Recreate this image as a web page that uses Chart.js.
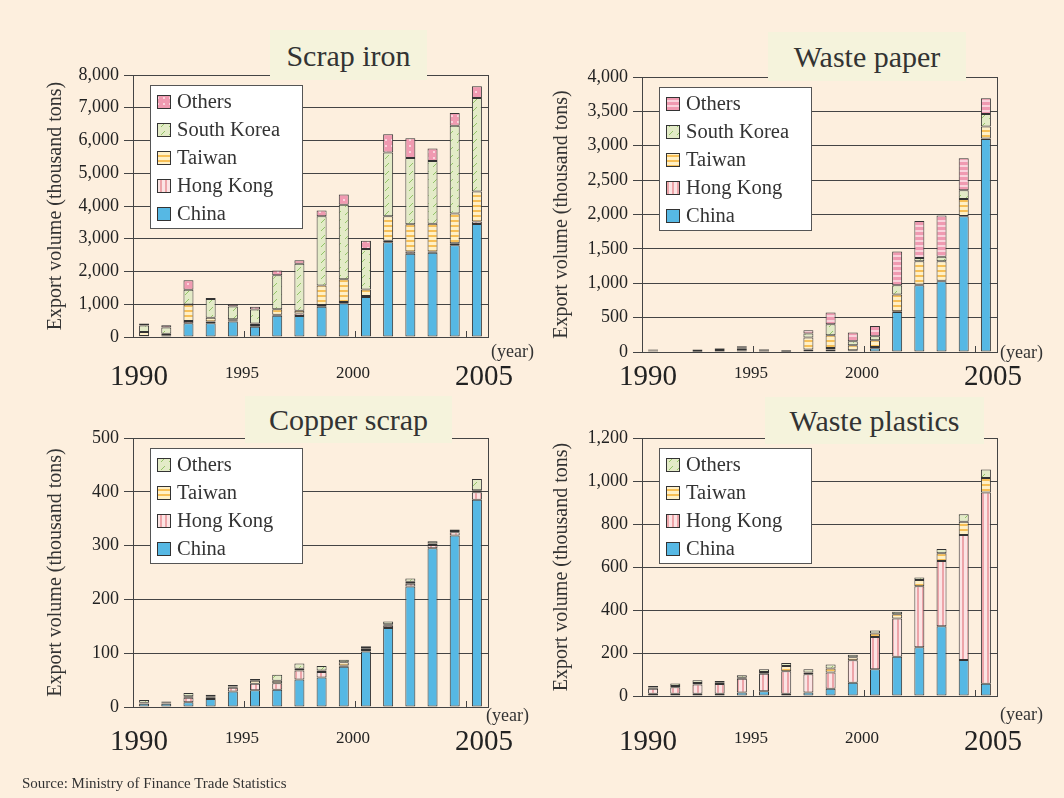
<!DOCTYPE html>
<html>
<head>
<meta charset="utf-8">
<script src="https://cdn.jsdelivr.net/npm/chart.js@4"></script>
<style>
  body { margin: 0; background: #fdefde; }
  #wrap { position: relative; width: 1064px; height: 798px; background: #fdefde; overflow: hidden;
          font-family: "Liberation Serif", serif; color: #333; }
  canvas { position: absolute; }
  .ttl { position: absolute; background: #f5f3dc; font-size: 30px; text-align: center; }
  .yr { position: absolute; font-size: 18px; color: #333; }
  #src { position: absolute; left: 22px; top: 775px; font-size: 15px; color: #333; }
</style>
</head>
<body>
<div id="wrap">
  <canvas id="c1" width="532" height="399" style="left:0;top:0"></canvas>
  <canvas id="c2" width="532" height="399" style="left:532px;top:0"></canvas>
  <canvas id="c3" width="532" height="399" style="left:0;top:399px"></canvas>
  <canvas id="c4" width="532" height="399" style="left:532px;top:399px"></canvas>

  <div class="ttl" style="left:270px;top:30px;width:157px;height:50px;line-height:52px">Scrap iron</div>
  <div class="ttl" style="left:768px;top:32px;width:198px;height:49px;line-height:49px">Waste paper</div>
  <div class="ttl" style="left:245px;top:396px;width:207px;height:47px;line-height:48px">Copper scrap</div>
  <div class="ttl" style="left:765px;top:397px;width:219px;height:47px;line-height:47px">Waste plastics</div>

  <div class="yr" style="left:491px;top:341px">(year)</div>
  <div class="yr" style="left:1000px;top:342px">(year)</div>
  <div class="yr" style="left:486px;top:705px">(year)</div>
  <div class="yr" style="left:1000px;top:704px">(year)</div>

  <div id="src">Source: Ministry of Finance Trade Statistics</div>
</div>

<script>
Chart.defaults.font.family = '"Liberation Serif", serif';

const years = ['1990','1991','1992','1993','1994','1995','1996','1997','1998','1999','2000','2001','2002','2003','2004','2005'];
const yearLabels = ['1990','','','','','1995','','','','','2000','','','','','2005'];

// Scrap iron (thousand tons)
const ironChina  = [20, 40, 420, 420, 470, 310, 650, 640, 920, 1030, 1220, 2890, 2540, 2570, 2800, 3450];
const ironHK     = [10, 20, 70, 50, 40, 60, 30, 80, 60, 40, 30, 50, 70, 40, 60, 80];
const ironTaiwan = [120, 40, 500, 120, 30, 40, 165, 80, 590, 690, 200, 750, 835, 845, 910, 910];
const ironKorea  = [200, 190, 450, 570, 390, 430, 1040, 1440, 2120, 2280, 1240, 1940, 2020, 1920, 2680, 2860];
const ironOthers = [60, 70, 290, 30, 70, 80, 145, 100, 175, 310, 250, 560, 600, 380, 390, 360];

// Waste paper
const paperChina  = [8, 0, 3, 5, 8, 5, 3, 15, 35, 10, 53, 582, 970, 1028, 1974, 3099];
const paperHK     = [5, 0, 2, 5, 10, 5, 2, 20, 25, 15, 20, 10, 10, 10, 5, 5];
const paperTaiwan = [10, 0, 10, 20, 30, 15, 10, 175, 185, 73, 97, 243, 340, 281, 247, 175];
const paperKorea  = [5, 0, 15, 20, 20, 12, 10, 58, 160, 58, 58, 136, 48, 68, 126, 184];
const paperOthers = [8, 0, 5, 8, 14, 7, 5, 50, 170, 126, 150, 490, 538, 597, 466, 228];

// Copper scrap
const copperChina  = [6, 6, 9, 15, 29, 31, 32, 51, 55, 75, 103, 147, 224, 295, 319, 385];
const copperHK     = [1, 1, 8, 3, 7, 12, 12, 17, 10, 2, 3, 4, 5, 6, 6, 14];
const copperTaiwan = [1, 1, 3, 2, 2, 6, 5, 3, 3, 6, 3, 3, 4, 3, 2, 4];
const copperOthers = [5, 2, 6, 3, 3, 3, 11, 10, 8, 5, 4, 5, 6, 4, 3, 21];

// Waste plastics
const plasticChina  = [11, 11, 11, 11, 16, 22, 11, 16, 34, 62, 124, 183, 227, 325, 168, 57];
const plasticHK     = [23, 30, 42, 45, 64, 82, 104, 85, 75, 104, 151, 177, 284, 303, 581, 890];
const plasticTaiwan = [6, 5, 8, 6, 5, 8, 25, 8, 19, 14, 16, 20, 28, 36, 62, 67];
const plasticOthers = [6, 12, 12, 8, 12, 12, 14, 15, 18, 12, 14, 12, 12, 20, 34, 39];

// hatch fills
function pattern(w, h, bg, draw) {
  const c = document.createElement('canvas');
  c.width = w; c.height = h;
  const g = c.getContext('2d');
  g.fillStyle = bg; g.fillRect(0, 0, w, h);
  draw(g);
  return g.createPattern(c, 'repeat');
}
const chinaFill = '#56b8e4';
const hkFill = pattern(5, 5, '#fbe4e4', g => { g.fillStyle = '#eda4a9'; g.fillRect(0, 0, 2, 5); });
const twFill = pattern(5, 5, '#fff0c6', g => { g.fillStyle = '#f7bf55'; g.fillRect(0, 0, 5, 2); });
const skFill = pattern(8, 8, '#e3ebc7', g => {
  g.strokeStyle = '#93c467'; g.lineWidth = 1;
  g.beginPath(); g.moveTo(1, 7); g.lineTo(5, 3); g.stroke();
});
const otherDots = pattern(6, 6, '#f09ab1', g => { g.fillStyle = '#f9d3dc'; g.fillRect(1, 1, 2, 2); });
const otherStripes = pattern(5, 5, '#f09ab1', g => { g.fillStyle = '#f9d3dc'; g.fillRect(0, 0, 5, 2); });

// plot frame + little ticks at 1995 / 2000 / 2005 boundaries
const frame = {
  id: 'frame',
  afterDatasetsDraw(chart) {
    const { ctx, chartArea: a, scales: { x } } = chart;
    ctx.save();
    ctx.strokeStyle = '#444';
    ctx.lineWidth = 1;
    ctx.strokeRect(Math.round(a.left) + 0.5, Math.round(a.top) + 0.5, Math.round(a.right - a.left), Math.round(a.bottom - a.top));
    [5, 10, 15].forEach(i => {
      const px = Math.round((x.getPixelForTick(i - 1) + x.getPixelForTick(i)) / 2) + 0.5;
      ctx.beginPath();
      ctx.moveTo(px, a.bottom);
      ctx.lineTo(px, a.bottom - 6);
      ctx.stroke();
    });
    ctx.restore();
  }
};

// year labels sit on the year boundaries; end years are larger
const yearAxis = {
  id: 'yearAxis',
  afterDraw(chart, args, opts) {
    const { ctx, chartArea: a, scales: { x } } = chart;
    ctx.save();
    ctx.fillStyle = '#222';
    ctx.textAlign = 'center';
    ctx.textBaseline = 'alphabetic';
    yearLabels.forEach((lab, i) => {
      if (!lab) return;
      let px, size, base;
      if (i === 0) { px = a.left + 6; size = 29; base = opts.big; }
      else if (i === yearLabels.length - 1) { px = a.right - 4; size = 29; base = opts.big; }
      else { px = (x.getPixelForTick(i - 1) + x.getPixelForTick(i)) / 2 - 2; size = 17; base = opts.big - 7; }
      ctx.font = size + 'px "Liberation Serif"';
      ctx.fillText(lab, px, a.bottom + base);
    });
    ctx.restore();
  }
};

// legend drawn inside the plot, top-left
const legendBox = {
  id: 'legendBox',
  afterDraw(chart) {
    const { ctx, chartArea: a } = chart;
    const sets = chart.data.datasets.slice().reverse();
    const x = Math.round(a.left) + 17, y = Math.round(a.top) + 10;
    const w = 152, h = sets.length * 28 + 3;
    ctx.save();
    ctx.fillStyle = '#fff';
    ctx.fillRect(x, y, w, h);
    ctx.strokeStyle = '#555';
    ctx.lineWidth = 1;
    ctx.strokeRect(x + 0.5, y + 0.5, w, h);
    ctx.font = '20.5px "Liberation Serif"';
    ctx.textBaseline = 'middle';
    sets.forEach((ds, i) => {
      const cy = y + 17 + i * 28;
      ctx.fillStyle = ds.backgroundColor;
      ctx.fillRect(x + 7, cy - 7, 14, 14);
      ctx.strokeStyle = '#333';
      ctx.strokeRect(x + 7.5, cy - 6.5, 13, 13);
      ctx.fillStyle = '#333';
      ctx.fillText(ds.label, x + 27, cy + 1);
    });
    ctx.restore();
  }
};

function build(id, cfg) {
  new Chart(document.getElementById(id), {
    type: 'bar',
    data: {
      labels: years,
      datasets: cfg.sets.map(s => ({
        label: s[0], data: s[1], backgroundColor: s[2],
        borderColor: '#333', borderWidth: 1, borderSkipped: false,
        barPercentage: 0.45, categoryPercentage: 1
      }))
    },
    options: {
      responsive: false,
      animation: false,
      events: [],
      layout: { padding: { left: 0, top: cfg.top, right: 532 - cfg.right, bottom: 0 } },
      plugins: { legend: { display: false }, tooltip: { enabled: false }, yearAxis: { big: cfg.big } },
      scales: {
        x: {
          stacked: true,
          grid: { display: false, drawTicks: false },
          border: { display: true, color: '#444' },
          ticks: { display: false },
          afterFit: s => { s.height = 399 - cfg.bottom; s.paddingLeft = 0; s.paddingRight = 0; }
        },
        y: {
          stacked: true, min: 0, max: cfg.max,
          ticks: { stepSize: cfg.step, padding: 5, color: '#222', font: { size: 18 } },
          grid: { color: '#444', tickLength: 9 },
          border: { color: '#444' },
          title: {
            display: true, text: 'Export volume (thousand tons)',
            color: '#333', font: { size: 20 }, padding: { top: cfg.tpad, bottom: 0 }
          },
          afterFit: s => { s.width = cfg.left; s.paddingTop = 0; s.paddingBottom = 0; }
        }
      }
    },
    plugins: [frame, yearAxis, legendBox]
  });
}

build('c1', {
  left: 133, top: 75, right: 488, bottom: 337, big: 48, tpad: 44, max: 8000, step: 1000,
  sets: [['China', ironChina, chinaFill], ['Hong Kong', ironHK, hkFill], ['Taiwan', ironTaiwan, twFill],
         ['South Korea', ironKorea, skFill], ['Others', ironOthers, otherDots]]
});
build('c2', {
  left: 110, top: 77, right: 465, bottom: 352, big: 33, tpad: 18, max: 4000, step: 500,
  sets: [['China', paperChina, chinaFill], ['Hong Kong', paperHK, hkFill], ['Taiwan', paperTaiwan, twFill],
         ['South Korea', paperKorea, skFill], ['Others', paperOthers, otherStripes]]
});
build('c3', {
  left: 133, top: 39, right: 488, bottom: 308, big: 43, tpad: 44, max: 500, step: 100,
  sets: [['China', copperChina, chinaFill], ['Hong Kong', copperHK, hkFill], ['Taiwan', copperTaiwan, twFill],
         ['Others', copperOthers, skFill]]
});
build('c4', {
  left: 110, top: 39, right: 465, bottom: 297, big: 54, tpad: 18, max: 1200, step: 200,
  sets: [['China', plasticChina, chinaFill], ['Hong Kong', plasticHK, hkFill], ['Taiwan', plasticTaiwan, twFill],
         ['Others', plasticOthers, skFill]]
});
</script>
</body>
</html>
